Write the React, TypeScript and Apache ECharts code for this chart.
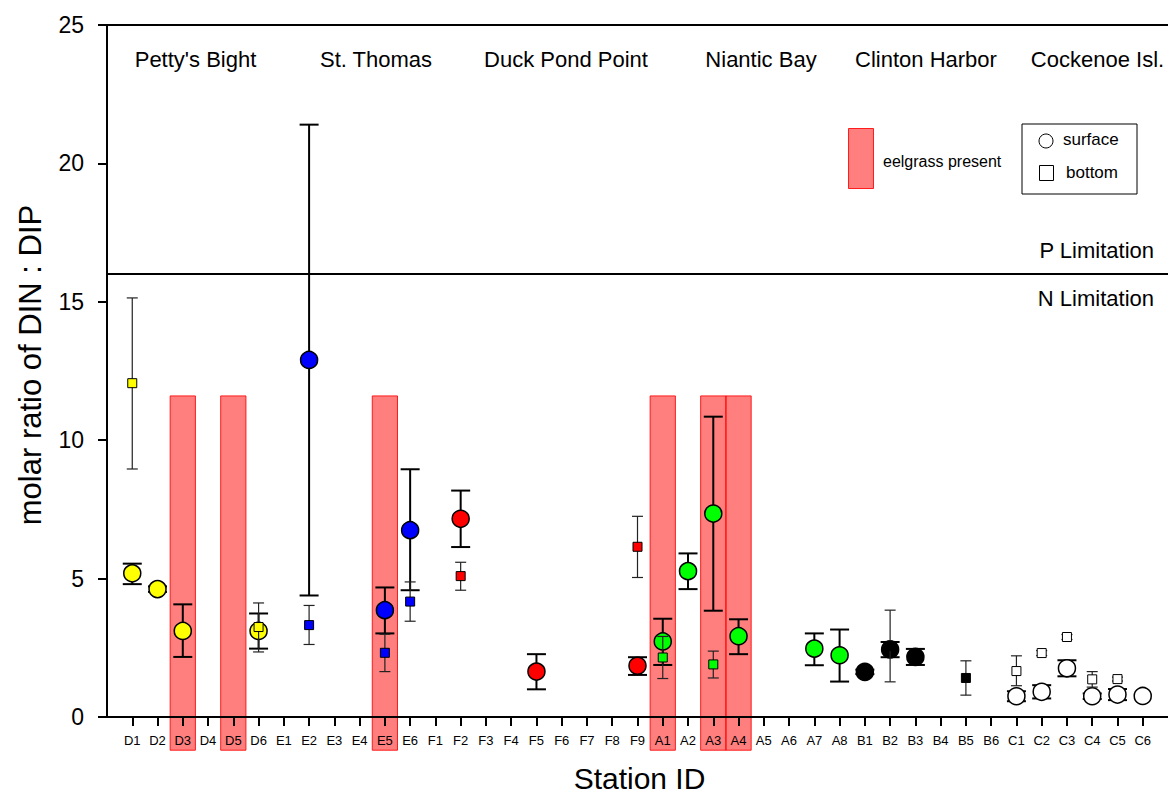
import React, { useEffect, useRef } from "react";
import * as echarts from "echarts";

const stations = [
  "D1", "D2", "D3", "D4", "D5", "D6",
  "E1", "E2", "E3", "E4", "E5", "E6",
  "F1", "F2", "F3", "F4", "F5", "F6", "F7", "F8", "F9",
  "A1", "A2", "A3", "A4", "A5", "A6", "A7", "A8",
  "B1", "B2", "B3", "B4", "B5", "B6",
  "C1", "C2", "C3", "C4", "C5", "C6",
];

const surfaceMean: (number | null)[] = [
  5.19, 4.62, 3.11, null, null, 3.11,
  null, 12.9, null, null, 3.86, 6.75,
  null, 7.16, null, null, 1.64, null, null, null, 1.85,
  2.73, 5.27, 7.35, 2.92, null, null, 2.47, 2.23,
  1.63, 2.44, 2.17, null, null, null,
  0.75, 0.91, 1.76, 0.75, 0.81, 0.76,
];
const surfaceLow: (number | null)[] = [
  4.8, 4.52, 2.17, null, null, 2.47,
  null, 4.39, null, null, 3.02, 4.58,
  null, 6.14, null, null, 1.0, null, null, null, 1.52,
  1.88, 4.62, 3.84, 2.27, null, null, 1.87, 1.28,
  1.55, 2.16, 1.88, null, null, null,
  0.57, 0.67, 1.47, 0.65, 0.61, null,
];
const surfaceHigh: (number | null)[] = [
  5.54, 4.72, 4.07, null, null, 3.74,
  null, 21.4, null, null, 4.68, 8.95,
  null, 8.18, null, null, 2.27, null, null, null, 2.16,
  3.55, 5.91, 10.85, 3.53, null, null, 3.02, 3.16,
  1.71, 2.71, 2.46, null, null, null,
  0.93, 1.15, 2.05, 0.85, 1.01, null,
];
const bottomMean: (number | null)[] = [
  12.06, null, null, null, null, 3.25,
  null, 3.32, null, null, 2.32, 4.17,
  null, 5.09, null, null, null, null, null, null, 6.15,
  2.15, null, 1.9, null, null, null, null, null,
  null, 2.57, null, null, 1.41, null,
  1.66, 2.31, 2.89, 1.36, 1.37, null,
];
const bottomLow: (number | null)[] = [
  8.96, null, null, null, null, 2.35,
  null, 2.62, null, null, 1.64, 3.46,
  null, 4.58, null, null, null, null, null, null, 5.04,
  1.39, null, 1.41, null, null, null, null, null,
  null, 1.27, null, null, 0.79, null,
  1.13, 2.22, 2.8, 1.08, 1.3, null,
];
const bottomHigh: (number | null)[] = [
  15.14, null, null, null, null, 4.12,
  null, 4.03, null, null, 2.99, 4.88,
  null, 5.59, null, null, null, null, null, null, 7.25,
  2.91, null, 2.38, null, null, null, null, null,
  null, 3.86, null, null, 2.03, null,
  2.21, 2.4, 2.98, 1.64, 1.44, null,
];

const eelgrassStations = ["D3", "D5", "E5", "A1", "A3", "A4"];
const eelgrassTop = 11.6;
const eelgrassBottom = -1.2;

const regionNames = [
  "Petty's Bight",
  "St. Thomas",
  "Duck Pond Point",
  "Niantic Bay",
  "Clinton Harbor",
  "Cockenoe Isl.",
];
const regionLabelX = [195.5, 376, 566, 761, 926, 1097.5];

const yMin = 0;
const yMax = 25;
const yStep = 5;
const limitLine = 16;

const groupColors: Record<string, string> = {
  D: "#FFFF00",
  E: "#0000FF",
  F: "#FF0000",
  A: "#00FF00",
  B: "#000000",
  C: "#FFFFFF",
};

const FONT = "'Liberation Sans', Arial, sans-serif";

const axisCats = ["", ...stations, ""];

function errData(low: (number | null)[], high: (number | null)[]) {
  const out: number[][] = [];
  stations.forEach((_, i) => {
    const lo = low[i];
    const hi = high[i];
    if (lo != null && hi != null) out.push([i + 1, lo, hi]);
  });
  return out;
}

function pointData(mean: (number | null)[]) {
  const out: any[] = [];
  stations.forEach((s, i) => {
    const m = mean[i];
    if (m != null) {
      out.push({ value: [i + 1, m], itemStyle: { color: groupColors[s[0]] } });
    }
  });
  return out;
}

function errorRenderer(capHalf: number, lineWidth: number, color: string) {
  return (params: any, api: any) => {
    const x = api.value(0);
    const pLo = api.coord([x, api.value(1)]);
    const pHi = api.coord([x, api.value(2)]);
    const style = { stroke: color, lineWidth };
    return {
      type: "group",
      children: [
        { type: "line", shape: { x1: pLo[0], y1: pLo[1], x2: pHi[0], y2: pHi[1] }, style },
        { type: "line", shape: { x1: pLo[0] - capHalf, y1: pLo[1], x2: pLo[0] + capHalf, y2: pLo[1] }, style },
        { type: "line", shape: { x1: pHi[0] - capHalf, y1: pHi[1], x2: pHi[0] + capHalf, y2: pHi[1] }, style },
      ],
    };
  };
}

export default function App() {
  const ref = useRef<HTMLDivElement>(null);

  useEffect(() => {
    if (!ref.current) return;
    const chart = echarts.init(ref.current, undefined, { renderer: "svg" });

    const eelData = eelgrassStations.map((s) => [stations.indexOf(s) + 1, eelgrassTop, eelgrassBottom]);

    const option: any = {
      animation: false,
      backgroundColor: "#ffffff",
      textStyle: { fontFamily: FONT },
      grid: { left: 107, top: 25, right: 0, height: 692, containLabel: false },
      xAxis: [
        {
          type: "category",
          data: axisCats,
          boundaryGap: false,
          z: 5,
          axisLine: { show: true, lineStyle: { color: "#000", width: 2 } },
          axisTick: {
            show: true,
            length: 9,
            interval: (idx: number, val: string) => val !== "",
            lineStyle: { color: "#000", width: 2 },
          },
          axisLabel: {
            interval: 0,
            margin: 17,
            fontSize: 13,
            color: "#000",
            fontFamily: FONT,
          },
          splitLine: { show: false },
        },
        {
          type: "category",
          data: axisCats,
          boundaryGap: false,
          position: "top",
          z: 5,
          axisLine: { show: true, lineStyle: { color: "#000", width: 2 } },
          axisTick: { show: false },
          axisLabel: { show: false },
          splitLine: { show: false },
        },
      ],
      yAxis: {
        type: "value",
        min: yMin,
        max: yMax,
        interval: yStep,
        z: 5,
        axisLine: { show: true, lineStyle: { color: "#000", width: 2 } },
        axisTick: { show: true, length: 9, lineStyle: { color: "#000", width: 2 } },
        axisLabel: { margin: 23, fontSize: 23, color: "#000", fontFamily: FONT },
        splitLine: { show: false },
      },
      series: [
        {
          type: "custom",
          name: "eelgrass",
          z: 1,
          clip: false,
          data: eelData,
          renderItem: (params: any, api: any) => {
            const x = api.value(0);
            const pTop = api.coord([x, api.value(1)]);
            const pBot = api.coord([x, api.value(2)]);
            const w = api.size([1, 0])[0];
            return {
              type: "rect",
              shape: { x: pTop[0] - w / 2, y: pTop[1], width: w, height: pBot[1] - pTop[1] },
              style: { fill: "rgba(255,0,0,0.5)", stroke: "rgba(255,0,0,0.85)", lineWidth: 1 },
            };
          },
        },
        {
          type: "custom",
          name: "surface error",
          z: 3,
          data: errData(surfaceLow, surfaceHigh),
          renderItem: errorRenderer(9.5, 2, "#000"),
        },
        {
          type: "scatter",
          name: "surface",
          z: 4,
          symbol: "circle",
          symbolSize: 17,
          itemStyle: { borderColor: "#000", borderWidth: 1.5, opacity: 1 },
          data: pointData(surfaceMean),
          markLine: {
            silent: true,
            symbol: ["none", "none"],
            label: { show: false },
            lineStyle: { color: "#000", width: 2, type: "solid" },
            data: [{ yAxis: limitLine }],
          },
        },
        {
          type: "custom",
          name: "bottom error",
          z: 5,
          data: errData(bottomLow, bottomHigh),
          renderItem: errorRenderer(5.5, 1.2, "#222"),
        },
        {
          type: "scatter",
          name: "bottom",
          z: 6,
          symbol: "rect",
          symbolSize: 9,
          itemStyle: { borderColor: "#000", borderWidth: 1, opacity: 1 },
          data: pointData(bottomMean),
        },
      ],
      graphic: [
        ...regionNames.map((n, i) => ({
          type: "text",
          x: regionLabelX[i],
          y: 59,
          style: {
            text: n,
            fill: "#000",
            font: `22px ${FONT}`,
            align: "center",
            verticalAlign: "middle",
          },
        })),
        {
          type: "text",
          x: 1154,
          y: 250,
          style: { text: "P Limitation", fill: "#000", font: `22px ${FONT}`, align: "right", verticalAlign: "middle" },
        },
        {
          type: "text",
          x: 1154,
          y: 298,
          style: { text: "N Limitation", fill: "#000", font: `22px ${FONT}`, align: "right", verticalAlign: "middle" },
        },
        {
          type: "rect",
          shape: { x: 848.5, y: 128.5, width: 25, height: 60 },
          style: { fill: "rgba(255,0,0,0.5)", stroke: "rgba(255,0,0,0.85)", lineWidth: 1 },
        },
        {
          type: "text",
          x: 883,
          y: 161,
          style: { text: "eelgrass present", fill: "#000", font: `16px ${FONT}`, align: "left", verticalAlign: "middle" },
        },
        {
          type: "rect",
          shape: { x: 1022, y: 124, width: 115, height: 70 },
          style: { fill: "#fff", stroke: "#000", lineWidth: 1 },
        },
        {
          type: "circle",
          shape: { cx: 1046, cy: 141, r: 7 },
          style: { fill: "#fff", stroke: "#000", lineWidth: 1 },
        },
        {
          type: "text",
          x: 1063,
          y: 139,
          style: { text: "surface", fill: "#000", font: `17px ${FONT}`, align: "left", verticalAlign: "middle" },
        },
        {
          type: "rect",
          shape: { x: 1039.5, y: 165.5, width: 14, height: 15 },
          style: { fill: "#fff", stroke: "#000", lineWidth: 1 },
        },
        {
          type: "text",
          x: 1066,
          y: 172,
          style: { text: "bottom", fill: "#000", font: `17px ${FONT}`, align: "left", verticalAlign: "middle" },
        },
        {
          type: "text",
          x: 30,
          y: 365,
          rotation: Math.PI / 2,
          style: {
            text: "molar ratio of DIN : DIP",
            fill: "#000",
            font: `31px ${FONT}`,
            align: "center",
            verticalAlign: "middle",
          },
        },
        {
          type: "text",
          x: 639.5,
          y: 778,
          style: { text: "Station ID", fill: "#000", font: `30px ${FONT}`, align: "center", verticalAlign: "middle" },
        },
      ],
    };

    chart.setOption(option);
    return () => chart.dispose();
  }, []);

  return (
    <div
      style={{
        position: "absolute",
        left: 0,
        top: 0,
        width: 1168,
        height: 793,
        overflow: "hidden",
        background: "#fff",
      }}
    >
      <div ref={ref} style={{ width: 1171, height: 793 }} />
    </div>
  );
}
